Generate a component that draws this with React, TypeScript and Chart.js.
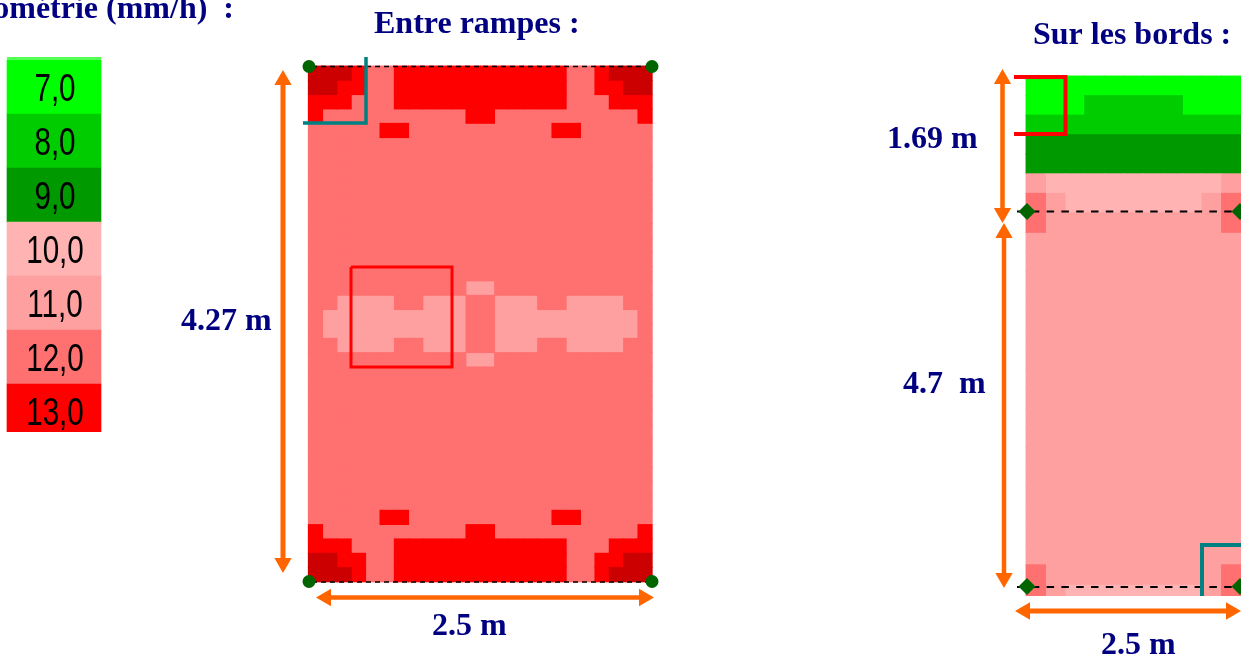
import React, { useEffect, useRef } from "react";
import { Chart, registerables } from "chart.js";

Chart.register(...registerables);

// ---- data (values in mm/h) ----
const legendLabels = ["7,0", "8,0", "9,0", "10,0", "11,0", "12,0", "13,0"];
const legendLevels = [7, 8, 9, 10, 11, 12, 13];

const L0 = [14,14,14,13,12,12,13,13,13,13,13,13,13,13,13,13,13,13,12,12,13,14,14,14];
const L1 = [14,14,13,13,12,12,13,13,13,13,13,13,13,13,13,13,13,13,12,12,13,13,14,14];
const L2 = [13,13,13,12,12,12,13,13,13,13,13,13,13,13,13,13,13,13,12,12,12,13,13,13];
const L3 = [13,12,12,12,12,12,12,12,12,12,12,13,13,12,12,12,12,12,12,12,12,12,12,13];
const L4 = [12,12,12,12,12,13,13,12,12,12,12,12,12,12,12,12,12,13,13,12,12,12,12,12];
const LP = [12,12,12,12,12,12,12,12,12,12,12,12,12,12,12,12,12,12,12,12,12,12,12,12];
const M1 = [12,12,12,12,12,12,12,12,12,12,12,11,11,12,12,12,12,12,12,12,12,12,12,12];
const M2 = [12,12,11,11,11,11,12,12,11,11,11,12,12,11,11,11,12,12,11,11,11,11,12,12];
const M3 = [12,11,11,11,11,11,11,11,11,11,11,12,12,11,11,11,11,11,11,11,11,11,11,12];
const entreRampes = [
  L0, L1, L2, L3, L4,
  LP, LP, LP, LP, LP, LP, LP, LP, LP, LP,
  M1, M2, M3, M3, M2, M1,
  LP, LP, LP, LP, LP, LP, LP, LP, LP, LP,
  L4, L3, L2, L1, L0,
];

const R0 = [7,7,7,7,7,7,7,7,7,7,7];
const R1 = [7,7,7,8,8,8,8,8,7,7,7];
const R2 = [8,8,8,8,8,8,8,8,8,8,8];
const R3 = [9,9,9,9,9,9,9,9,9,9,9];
const R5 = [11,10,10,10,10,10,10,10,10,10,11];
const R6 = [12,11,10,10,10,10,10,10,10,11,12];
const R7 = [12,11,11,11,11,11,11,11,11,11,12];
const RP = [11,11,11,11,11,11,11,11,11,11,11];
const surLesBords = [
  R0, R1, R2, R3, R3, R5, R6, R7,
  RP, RP, RP, RP, RP, RP, RP, RP, RP, RP, RP, RP, RP, RP, RP, RP, RP,
  R7, R6,
];

// ---- styles and layout ----
const W = 1241;
const H = 659;
const levelColors: Record<number, string> = {
  7: "#00FF00", 8: "#00CC00", 9: "#009900", 10: "#FFB3B3",
  11: "#FFA0A0", 12: "#FF7070", 13: "#FF0000", 14: "#CC0000",
};
const NAVY = "#000080";
const ORANGE = "#FF6600";
const TEAL = "#008080";
const GREEN = "#006400";

const leftPanel = { x: 308.3, y: 66, cell: 14.33 };
const rightPanel = { x: 1026, y: 76, cell: 19.55, bottom: 596 };
const legendBox = { x: 7, y: 60, cell: 54, width: 94, bottom: 432 };
const cellOverlap = 0.9;

type Pt = { x: number; y: number };
const P = (x: number, y: number): Pt => ({ x, y });

const arrows: { from: Pt; to: Pt; width: number }[] = [
  { from: P(283, 70), to: P(283, 573), width: 5 },
  { from: P(316, 597.5), to: P(654, 597.5), width: 4.5 },
  { from: P(1002.5, 69), to: P(1002.5, 223), width: 4.5 },
  { from: P(1004, 223), to: P(1004, 588), width: 4.5 },
  { from: P(1015, 611), to: P(1241, 611), width: 5 },
];
const paths: { pts: Pt[]; color: string; width: number; dash?: number[] }[] = [
  { pts: [P(351, 267), P(452, 267), P(452, 367), P(351, 367), P(351, 267)], color: "#FF0000", width: 3 },
  { pts: [P(366, 57), P(366, 123), P(303, 123)], color: TEAL, width: 3.5 },
  { pts: [P(1014, 77), P(1065.5, 77), P(1065.5, 134), P(1014, 134)], color: "#FF0000", width: 4 },
  { pts: [P(1202, 596), P(1202, 545), P(1241, 545)], color: TEAL, width: 4 },
  { pts: [P(312, 66.5), P(650, 66.5)], color: "#000000", width: 1.5, dash: [5, 4] },
  { pts: [P(312, 582), P(650, 582)], color: "#000000", width: 1.5, dash: [5, 4] },
  { pts: [P(1017, 211.5), P(1241, 211.5)], color: "#000000", width: 2, dash: [7.5, 7.3] },
  { pts: [P(1017, 587), P(1241, 587)], color: "#000000", width: 2, dash: [7.5, 7.3] },
  { pts: [P(7, 58.5), P(101, 58.5)], color: "#55FF55", width: 3 },
];
const leftCorners = [P(309, 66.5), P(652, 66.5), P(309, 581.5), P(652, 581.5)];
const rightCorners = [P(1027, 211.5), P(1240, 211.5), P(1027, 586.5), P(1240, 586.5)];
const captions: { text: string; x: number; y: number; align?: CanvasTextAlign }[] = [
  { text: "Pluviométrie (mm/h)  :", x: 234, y: 18, align: "right" },
  { text: "Entre rampes :", x: 374, y: 33 },
  { text: "Sur les bords :", x: 1033, y: 44 },
  { text: "4.27 m", x: 181, y: 330 },
  { text: "2.5 m", x: 432, y: 635 },
  { text: "1.69 m", x: 887, y: 148 },
  { text: "4.7  m", x: 903, y: 393 },
  { text: "2.5 m", x: 1101, y: 654 },
];

const axis = (origin: number, unit: number, length: number) => ({
  min: -origin / unit,
  max: (length - origin) / unit,
});

function cellsByLevel(rows: number[][]) {
  const groups = new Map<number, Pt[]>();
  rows.forEach((row, r) =>
    row.forEach((level, c) => {
      if (!groups.has(level)) groups.set(level, []);
      groups.get(level)!.push({ x: c + 0.5, y: r + 0.5 });
    })
  );
  return groups;
}

const textPlugin = {
  id: "chartText",
  afterDatasetsDraw(chart: any) {
    const { ctx, scales } = chart;
    ctx.save();
    ctx.fillStyle = NAVY;
    ctx.font = 'bold 32px "Liberation Serif"';
    ctx.textBaseline = "alphabetic";
    captions.forEach((c) => {
      ctx.textAlign = c.align ?? "left";
      ctx.fillText(c.text, c.x, c.y);
    });
    ctx.fillStyle = "#000000";
    ctx.font = '39px "Liberation Sans"';
    ctx.textAlign = "center";
    legendLabels.forEach((label, i) => {
      const cx = scales.xLegend.getPixelForValue(0.5);
      const cy = scales.yLegend.getPixelForValue(i + 0.5);
      ctx.save();
      ctx.translate(cx + 1, cy + 14);
      ctx.scale(0.76, 1);
      ctx.fillText(label, 0, 0);
      ctx.restore();
    });
    ctx.restore();
  },
};

export default function App() {
  const ref = useRef<HTMLCanvasElement | null>(null);

  useEffect(() => {
    if (!ref.current) return;
    const datasets: any[] = [];

    const addPanel = (rows: number[][], xAxisID: string, yAxisID: string, cell: number, clip?: any) => {
      cellsByLevel(rows).forEach((data, level) => {
        datasets.push({
          type: "scatter",
          data,
          xAxisID,
          yAxisID,
          order: 30 - level / 100,
          showLine: false,
          pointStyle: "rect",
          pointRadius: (cell + cellOverlap) / Math.SQRT2,
          pointBackgroundColor: levelColors[level],
          pointBorderWidth: 0,
          ...(clip ? { clip } : {}),
        });
      });
    };
    addPanel(entreRampes, "xLeft", "yLeft", leftPanel.cell);
    addPanel(surLesBords, "xRight", "yRight", rightPanel.cell, {
      left: 0, top: 0, right: 0, bottom: rightPanel.bottom - H,
    });

    datasets.push({
      type: "bar",
      data: legendLevels.map((_, i) => ({ x: 0, y: [i, i + 1] })),
      xAxisID: "xLegend",
      yAxisID: "yLegend",
      order: 30,
      barThickness: legendBox.width,
      backgroundColor: legendLevels.map((l) => levelColors[l]),
      clip: { left: 0, top: 0, right: 0, bottom: legendBox.bottom - H },
    });

    paths.forEach((p) =>
      datasets.push({
        type: "scatter",
        data: p.pts,
        xAxisID: "x",
        yAxisID: "y",
        order: 10,
        showLine: true,
        borderColor: p.color,
        borderWidth: p.width,
        borderDash: p.dash ?? [],
        borderJoinStyle: "miter",
        pointRadius: 0,
      })
    );

    const headR = 10;
    arrows.forEach((a) => {
      const dx = a.to.x - a.from.x;
      const dy = a.to.y - a.from.y;
      const len = Math.hypot(dx, dy);
      const ux = dx / len;
      const uy = dy / len;
      const angle = (Math.atan2(uy, ux) * 180) / Math.PI + 90;
      datasets.push({
        type: "scatter",
        data: [
          P(a.from.x + ux * headR, a.from.y + uy * headR),
          P(a.to.x - ux * headR, a.to.y - uy * headR),
        ],
        xAxisID: "x",
        yAxisID: "y",
        order: 8,
        showLine: true,
        borderColor: ORANGE,
        borderWidth: a.width,
        pointStyle: "triangle",
        pointRadius: headR,
        pointBackgroundColor: ORANGE,
        pointBorderColor: ORANGE,
        pointBorderWidth: 0,
        pointRotation: [angle + 180, angle],
      });
    });

    [
      { data: leftCorners, style: "circle", radius: 6.5 },
      { data: rightCorners, style: "rectRot", radius: 8.5 },
    ].forEach((m) =>
      datasets.push({
        type: "scatter",
        data: m.data,
        xAxisID: "x",
        yAxisID: "y",
        order: 5,
        showLine: false,
        pointStyle: m.style,
        pointRadius: m.radius,
        pointBackgroundColor: GREEN,
        pointBorderColor: GREEN,
        pointBorderWidth: 0,
      })
    );

    const hidden = { type: "linear", display: false, offset: false };
    const chart = new Chart(ref.current, {
      type: "scatter",
      data: { datasets },
      plugins: [textPlugin],
      options: {
        animation: false,
        responsive: false,
        events: [],
        layout: { padding: 0, autoPadding: false },
        plugins: { legend: { display: false }, tooltip: { enabled: false }, title: { display: false } },
        scales: {
          x: { ...hidden, axis: "x", min: 0, max: W },
          y: { ...hidden, axis: "y", min: 0, max: H, reverse: true },
          xLeft: { ...hidden, axis: "x", ...axis(leftPanel.x, leftPanel.cell, W) },
          yLeft: { ...hidden, axis: "y", reverse: true, ...axis(leftPanel.y, leftPanel.cell, H) },
          xRight: { ...hidden, axis: "x", ...axis(rightPanel.x, rightPanel.cell, W) },
          yRight: { ...hidden, axis: "y", reverse: true, ...axis(rightPanel.y, rightPanel.cell, H) },
          xLegend: { ...hidden, axis: "x", ...axis(legendBox.x, legendBox.width, W) },
          yLegend: { ...hidden, axis: "y", reverse: true, ...axis(legendBox.y, legendBox.cell, H) },
        },
      } as any,
    } as any);
    return () => chart.destroy();
  }, []);

  return (
    <div style={{ position: "fixed", left: 0, top: 0, width: W, height: H, background: "#fff", overflow: "hidden" }}>
      <canvas ref={ref} width={W} height={H} style={{ display: "block" }} />
    </div>
  );
}
